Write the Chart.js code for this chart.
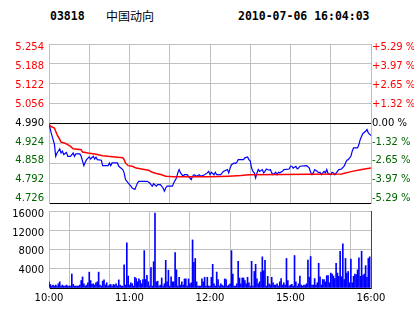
<!DOCTYPE html>
<html lang="zh">
<head>
<meta charset="UTF-8" />
<title>03818 中国动向</title>
<script src="https://cdn.jsdelivr.net/npm/chart.js"></script>
<style>
    body { margin: 0; background: #fff; }
    #wrap { position: relative; width: 414px; height: 314px; overflow: hidden; }
    .hd { position: absolute; top: 9px; line-height: 14px; white-space: nowrap; color: #000; }
    .mono { font-family: 'DejaVu Sans Mono', monospace; font-weight: bold; font-size: 11.5px; }
    .cn { font-family: 'Noto Sans CJK SC', sans-serif; font-size: 12px; }
    canvas { position: absolute; left: 0; }
</style>
</head>
<body>
<div id="wrap">
    <div class="hd mono" style="left:50px">03818</div>
    <div class="hd cn" style="left:106px">中国动向</div>
    <div class="hd mono" style="left:238px">2010-07-06 16:04:03</div>
    <canvas id="volChart" width="414" height="114" style="top:200px"></canvas>
    <canvas id="priceChart" width="414" height="215" style="top:0"></canvas>
</div>
<script>
// minutes after 10:00 (lunch break removed), 0..240
const prevClose = 4.990;

const priceMins = [0,1,2,3,4,5,6,8,9,10,11,13,14,16,18,19,20,23,24,25,26,27,28,30,31,33,34,35,36,39,40,44,45,46,47,51,52,55,56,57,60,61,62,64,65,66,67,73,75,76,77,78,80,81,83,85,86,87,88,92,93,95,96,97,98,100,101,103,105,106,107,108,110,112,113,116,118,119,
    120,121,123,124,125,128,130,133,134,135,136,138,139,140,141,145,146,148,149,150,151,152,153,154,155,156,157,159,160,161,162,164,165,166,167,169,170,171,172,174,175,179,180,181,182,184,185,186,187,192,194,195,196,197,198,200,201,202,203,205,206,207,208,210,211,212,213,215,216,218,220,221,222,223,225,226,227,230,231,232,233,234,236,237,238,240];
const prices = [4.990,4.970,4.953,4.937,4.922,4.881,4.892,4.906,4.892,4.898,4.887,4.894,4.881,4.881,4.892,4.881,4.889,4.889,4.881,4.865,4.850,4.861,4.870,4.879,4.872,4.881,4.872,4.878,4.870,4.868,4.850,4.850,4.859,4.850,4.859,4.859,4.848,4.837,4.826,4.804,4.787,4.782,4.776,4.771,4.782,4.793,4.798,4.798,4.793,4.787,4.782,4.790,4.782,4.787,4.787,4.776,4.765,4.776,4.782,4.782,4.793,4.809,4.826,4.837,4.826,4.815,4.820,4.820,4.809,4.804,4.815,4.820,4.815,4.820,4.815,4.820,4.826,4.831,
    4.820,4.828,4.820,4.828,4.820,4.820,4.831,4.837,4.826,4.842,4.853,4.859,4.857,4.861,4.870,4.870,4.876,4.879,4.870,4.865,4.842,4.831,4.826,4.809,4.826,4.837,4.831,4.837,4.826,4.831,4.839,4.835,4.837,4.826,4.820,4.828,4.820,4.828,4.826,4.831,4.837,4.839,4.848,4.848,4.842,4.848,4.839,4.842,4.848,4.850,4.842,4.828,4.820,4.826,4.837,4.831,4.826,4.828,4.820,4.831,4.826,4.837,4.824,4.820,4.828,4.826,4.820,4.831,4.837,4.839,4.848,4.859,4.868,4.870,4.881,4.898,4.909,4.909,4.920,4.937,4.948,4.957,4.964,4.970,4.959,4.950];

const avgMins = [0,1,4,5,6,8,9,11,14,16,18,24,25,29,34,36,40,44,49,55,56,57,59,62,65,69,74,77,80,84,87,93,119,134,143,149,218,226,233,240];
const avgPrices = [4.989,4.981,4.975,4.964,4.953,4.937,4.928,4.926,4.920,4.914,4.906,4.903,4.895,4.892,4.889,4.887,4.883,4.881,4.879,4.876,4.870,4.859,4.850,4.848,4.842,4.839,4.835,4.828,4.824,4.820,4.815,4.813,4.813,4.815,4.817,4.820,4.822,4.831,4.837,4.842];

// one bar per minute
const volumes = [
    1280,740,400,610,400,610,400,880,1280,400,
    610,400,400,610,400,400,400,2900,740,400,
    400,400,400,610,1550,2300,880,400,610,1080,
    3300,1550,740,880,610,1080,1280,3300,610,400,
    1420,1690,610,1080,400,610,740,400,740,610,
    880,400,1690,610,400,400,4790,610,9380,2500,
    610,1080,880,400,2230,1960,1280,1890,1550,880,
    1760,7760,1760,2630,1280,400,4250,400,5470,15590,
    1280,1420,400,610,2090,400,880,5740,1280,3710,
    400,2300,1280,1280,7360,3780,400,2230,610,1280,
    610,1890,1890,400,1890,880,1080,9990,5330,6140,
    1280,400,400,400,1890,1280,2230,400,2230,400,
    400,2230,4930,880,400,3310,1760,400,880,610,
    400,1890,1760,400,610,880,7760,2900,400,400,
    880,5540,2090,880,2090,2090,1550,880,2230,1080,
    400,5540,400,3440,4930,1890,880,1280,3310,6480,
    3580,5740,400,2430,880,610,2230,1080,610,610,
    880,400,1280,1960,610,1080,610,6140,1550,400,
    610,740,400,6750,1280,400,880,2500,610,400,
    610,610,880,5800,2230,6550,610,610,1960,610,
    1080,5130,2300,610,1760,1760,1280,2560,2560,1080,
    3100,2900,2500,1960,5130,3100,2430,7630,2360,9180,
    1760,6140,3100,3440,1080,6010,1080,2430,2900,2770,
    3780,6280,2430,7630,2630,2900,4660,2230,6140,6480
];

const priceTicks = [4.726, 4.792, 4.858, 4.924, 4.990, 5.056, 5.122, 5.188, 5.254];
const pctLabels = ['-5.29 %', '-3.97 %', '-2.65 %', '-1.32 %', '0.00 %', '+1.32 %', '+2.65 %', '+3.97 %', '+5.29 %'];
const timeTicks = [0, 30, 60, 90, 120, 150, 180, 210, 240];
const timeLabels = ['10:00', '', '11:00', '', '12:00', '', '15:00', '', '16:00'];
const volTicks = [0, 4000, 8000, 12000, 16000];
const volLabelTicks = [4000, 8000, 12000, 16000];

const GRID = '#c0c0c0';
const tickFont = { family: 'DejaVu Sans', size: 10 };

function sideColor(v) {
    if (v > prevClose + 1e-6) return '#ff0000';
    if (v < prevClose - 1e-6) return '#006600';
    return '#000000';
}

// label-only axes use a slightly wider range so the end labels sit inside the frame
function labelAxis(pos, min, max, ticks, cb, color, pad, width) {
    return {
        position: pos, min: min, max: max,
        afterBuildTicks: s => { s.ticks = ticks.map(v => ({ value: v })); },
        ticks: { callback: cb, color: color, font: tickFont, padding: pad },
        grid: { display: false, drawTicks: false },
        border: { color: GRID },
        afterFit: s => { s.width = width; }
    };
}

new Chart(document.getElementById('priceChart'), {
    type: 'line',
    data: {
        datasets: [
            { data: avgMins.map((m, i) => ({ x: m, y: avgPrices[i] })), borderColor: '#ff0000', borderWidth: 1.5, pointRadius: 0, tension: 0 },
            { data: priceMins.map((m, i) => ({ x: m, y: prices[i] })), borderColor: '#0000ff', borderWidth: 1.2, pointRadius: 0, tension: 0 }
        ]
    },
    options: {
        responsive: false,
        animation: false,
        layout: { padding: { top: 44, bottom: 12, left: 0, right: 0 } },
        plugins: { legend: { display: false }, tooltip: { enabled: false } },
        scales: {
            x: {
                type: 'linear', min: 0, max: 240,
                afterBuildTicks: s => { s.ticks = timeTicks.map(v => ({ value: v })); },
                ticks: { display: false },
                grid: { color: GRID, drawTicks: false },
                border: { display: false },
                afterFit: s => { s.height = 0; }
            },
            y: {
                position: 'left', min: 4.726, max: 5.254,
                afterBuildTicks: s => { s.ticks = priceTicks.map(v => ({ value: v })); },
                ticks: { display: false },
                grid: {
                    color: c => (c.tick && (Math.abs(c.tick.value - prevClose) < 1e-6 || c.index === 0)) ? '#000000' : GRID,
                    drawTicks: false
                },
                border: { display: false },
                afterFit: s => { s.width = 0; }
            },
            yl: labelAxis('left', 4.711, 5.266, priceTicks, v => v.toFixed(3), c => sideColor(c.tick.value), 5, 49),
            yr: labelAxis('right', 4.711, 5.266, priceTicks, (v, i) => pctLabels[i], c => sideColor(c.tick.value), 1, 43)
        }
    }
});

new Chart(document.getElementById('volChart'), {
    type: 'bar',
    data: {
        datasets: [{ data: volumes.map((v, i) => ({ x: i, y: v })), backgroundColor: '#0000ff', barThickness: 1 }]
    },
    options: {
        responsive: false,
        animation: false,
        layout: { padding: { top: 9, bottom: 6, left: 0, right: 0 } },
        plugins: { legend: { display: false }, tooltip: { enabled: false } },
        scales: {
            x: {
                type: 'linear', min: 0, max: 240, offset: false,
                afterBuildTicks: s => { s.ticks = timeTicks.map(v => ({ value: v })); },
                ticks: { callback: (v, i) => timeLabels[i], color: '#000', font: tickFont, padding: 4, autoSkip: false, maxRotation: 0 },
                grid: { color: GRID, drawTicks: false },
                border: { color: '#000000' },
                afterFit: s => { s.height = 20; }
            },
            y: {
                position: 'left', min: 0, max: 16000,
                afterBuildTicks: s => { s.ticks = volTicks.map(v => ({ value: v })); },
                ticks: { display: false },
                grid: { color: c => (c.tick && c.tick.value === 0) ? '#000000' : GRID, drawTicks: false },
                border: { display: false },
                afterFit: s => { s.width = 0; }
            },
            yl: labelAxis('left', 127, 16847, volLabelTicks, v => String(v), '#000', 5, 49),
            yEdge: {
                position: 'right', min: 0, max: 16000,
                ticks: { display: false },
                grid: { display: false, drawTicks: false },
                border: { color: '#444444' },
                afterFit: s => { s.width = 43; }
            }
        }
    }
});
</script>
</body>
</html>
